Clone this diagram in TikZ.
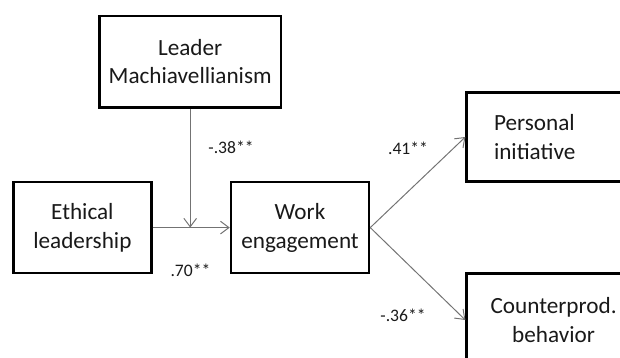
\documentclass[tikz,border=0pt]{standalone}
\usepackage{fontspec}
\setmainfont{Carlito}
\usetikzlibrary{arrows.meta}
\begin{document}
\begin{tikzpicture}[
        box/.style={draw, line width=1.8pt, minimum width=3.45cm, minimum height=2.28cm, align=center, text=black!90, font=\fontsize{16.5}{20.5}\selectfont},
        arr/.style={draw=black!55, line width=0.7pt, -{Straight Barb[length=6pt,width=9pt]}},
        coef/.style={text=black!90, font=\fontsize{12.5}{14}\selectfont}]
        %\draw[gray] (0,0) grid (15.5,9);
        \clip (0,0) rectangle (15.5,8.95);
        \useasboundingbox (0,0) rectangle (15.5,8.95);

        \node[box, minimum width=4.53cm, minimum height=2.29cm] (leader) at (4.755,7.41) {Leader\\Machiavellianism};
        \node[box] (ethical) at (2.06,3.26) {Ethical\\leadership};
        \node[box] (work) at (7.5,3.26) {Work\\engagement};
        \node[box, minimum height=2.23cm, text width=2.93cm, inner xsep=0.685cm, align=left] (initiative) at (13.815,5.525) {Personal\\initiative};
        \node[box, minimum width=4.35cm, minimum height=2.335cm] (cwb) at (13.84,0.95) {Counterprod.\\behavior};

        \coordinate (mod) at (leader.south |- ethical.east);

        \draw[arr] (ethical) -- (work);
        \draw[arr] (leader) -- (mod);
        \draw[arr] (work.east) -- (initiative.west);
        \draw[arr] (work.east) -- (cwb.west);

        \node[coef] (b1) at (5.775,5.275) {-.38**};
        \node[coef] (b2) at (4.76,2.2) {.70**};
        \node[coef] (b3) at (10.2,5.25) {.41**};
        \node[coef] (b4) at (10.075,1.075) {-.36**};
    \end{tikzpicture}
\end{document}
